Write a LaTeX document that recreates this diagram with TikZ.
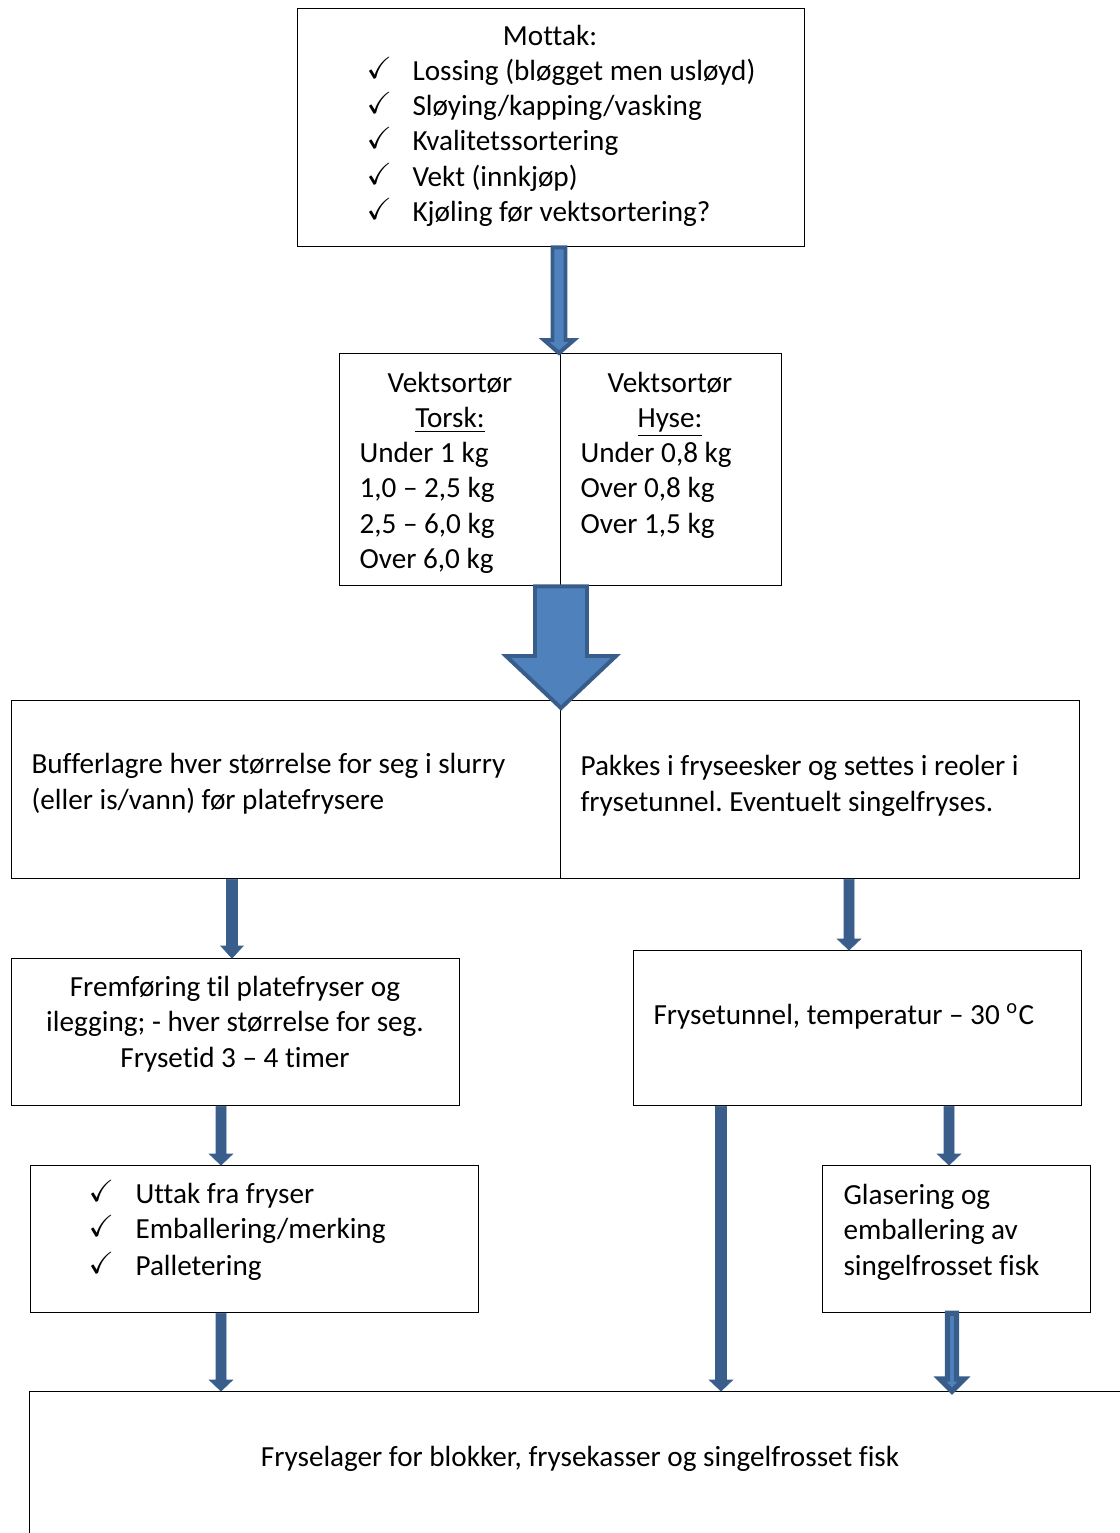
\documentclass[tikz,border=0pt]{standalone}
\usepackage{fontspec}
\setmainfont{Carlito}[Ligatures={NoCommon}]
\usepackage{amssymb}
\usetikzlibrary{calc}
\frenchspacing

\definecolor{arrowfill}{HTML}{4F81BD}
\definecolor{arrowline}{HTML}{385D8A}
\definecolor{arrowdark}{HTML}{3A5E8C}

\newcommand{\px}{0.377pt}
\tikzset{
  box/.style={draw, line width=0.5pt, inner sep=0pt, anchor=north west},
  txt/.style={inner sep=0pt, anchor=base west, font=\fontsize{11}{13.4}\selectfont},
  ctxt/.style={txt, anchor=base},
  tick/.style={inner sep=0pt, anchor=base west, font=\fontsize{11.5}{13}\selectfont},
  hollowarrow/.style={fill=arrowfill, draw=arrowline, line width=1.5pt, line join=miter},
  solidarrow/.style={fill=arrowdark, draw=arrowdark, line width=0.3pt},
}
% stepbox: name, left, top, width, height
\newcommand{\stepbox}[5]{\node[box, minimum width=#4*\px, minimum height=#5*\px] (#1) at (#2,#3) {};}
% blockarrow: style, x, from, to, half shaft, half head, head length
\newcommand{\blockarrow}[7]{%
  \path[#1] ($(#2 |- #3)+(-#5,0)$) -- ($(#2 |- #3)+(#5,0)$)
    -- ($(#2 |- #4)+(#5,-#7)$) -- ($(#2 |- #4)+(#6,-#7)$) -- (#2 |- #4)
    -- ($(#2 |- #4)+(-#6,-#7)$) -- ($(#2 |- #4)+(-#5,-#7)$) -- cycle;}

\begin{document}
\begin{tikzpicture}[x=\px, y=-\px]
  \useasboundingbox (0,0) rectangle (1120,1533);
  \clip (0,0) rectangle (1120,1533);

  % boxes
  \stepbox{mottak}{297}{8}{507}{238}
  \stepbox{torsk}{339}{353}{221}{232}
  \stepbox{hyse}{560}{353}{221}{232}
  \stepbox{buffer}{11}{700}{549}{178}
  \stepbox{pakkes}{560}{700}{519}{178}
  \stepbox{fremf}{11}{958}{448}{147}
  \stepbox{tunnel}{633}{950}{448}{155}
  \stepbox{uttak}{30}{1165}{448}{147}
  \stepbox{glaser}{822}{1165}{268}{147}
  \stepbox{lager}{29}{1391}{1100}{150}

  % Mottak
  \node[ctxt] (mottak-0) at (550,45) {Mottak:};
  \foreach \t [count=\i] in {Lossing (bløgget men usløyd), Sløying/kapping/vasking,
      Kvalitetssortering, Vekt (innkjøp), Kjøling før vektsortering?} {
    \node[tick] (mottak-tick\i) at (366,43+35.3*\i) {$\checkmark$};
    \node[txt] (mottak-\i) at (412,45+35.3*\i) {\t};
  }

  % Vektsortør
  \node[ctxt] (torsk-0) at (450,392) {Vektsortør};
  \node[ctxt] (torsk-00) at (450,427) {\underline{Torsk:}};
  \foreach \t [count=\i] in {Under 1 kg, {1,0 – 2,5 kg}, {2,5 – 6,0 kg}, {Over 6,0 kg}}
    \node[txt] (torsk-\i) at (359,427.5+35.2*\i) {\t};
  \node[ctxt] (hyse-0) at (670,392) {Vektsortør};
  \node[ctxt] (hyse-00) at (670,427) {\underline{Hyse:}};
  \foreach \t [count=\i] in {{Under 0,8 kg}, {Over 0,8 kg}, {Over 1,5 kg}}
    \node[txt] (hyse-\i) at (580,427.5+35.2*\i) {\t};

  % second row
  \node[txt] (buffer-1) at (31,773) {Bufferlagre hver størrelse for seg i slurry};
  \node[txt] (buffer-2) at (31,809) {(eller is/vann) før platefrysere};
  \node[txt] (pakkes-1) at (580,775) {Pakkes i fryseesker og settes i reoler i};
  \node[txt] (pakkes-2) at (580,811) {frysetunnel. Eventuelt singelfryses.};

  % third row
  \node[ctxt] (fremf-1) at (235,996) {Fremføring til platefryser og};
  \node[ctxt] (fremf-2) at (235,1031) {ilegging; - hver størrelse for seg.};
  \node[ctxt] (fremf-3) at (235,1067) {Frysetid 3 – 4 timer};
  \node[txt] (tunnel-1) at (653,1024) {Frysetunnel, temperatur – 30 \textsuperscript{o}C};

  % fourth row
  \foreach \t/\y [count=\i] in {Uttak fra fryser/1203, Emballering\slash merking/1238, Palletering/1275} {
    \node[tick] (uttak-tick\i) at (88,\y-2) {$\checkmark$};
    \node[txt] (uttak-\i) at (135,\y) {\t};
  }
  \foreach \t/\y [count=\i] in {Glasering og/1204, emballering av/1239, singelfrosset fisk/1275}
    \node[txt] (glaser-\i) at (843,\y) {\t};

  \node[ctxt] (lager-1) at (580,1466) {Fryselager for blokker, frysekasser og singelfrosset fisk};

  % arrows
  \coordinate (c1) at (559,0);
  \coordinate (c2) at (561,0);
  \coordinate (c3) at (232,0);
  \coordinate (c4) at (849,0);
  \coordinate (c5) at (221,0);
  \coordinate (c6) at (721,0);
  \coordinate (c7) at (949,0);
  \coordinate (c8) at (221,0);
  \coordinate (c9) at (952,0);
  \coordinate (tip2) at ($(buffer.north)+(0,8)$);
  \blockarrow{hollowarrow}{c1}{mottak.south}{torsk.north}{6.5}{15}{13}
  \blockarrow{hollowarrow}{c2}{torsk.south}{tip2}{26}{55}{52}
  \blockarrow{solidarrow}{c3}{buffer.south}{fremf.north}{5.5}{11}{12}
  \blockarrow{solidarrow}{c4}{pakkes.south}{tunnel.north}{5}{11.5}{11}
  \blockarrow{solidarrow}{c5}{fremf.south}{uttak.north}{5}{11.5}{11}
  \blockarrow{solidarrow}{c6}{tunnel.south}{lager.north}{5.5}{11.5}{11}
  \blockarrow{solidarrow}{c7}{tunnel.south}{glaser.north}{5}{11.5}{11}
  \blockarrow{solidarrow}{c8}{uttak.south}{lager.north}{5}{11.5}{11}
  \blockarrow{hollowarrow, line width=2pt}{c9}{glaser.south}{lager.north}{4.5}{12}{12}
\end{tikzpicture}
\end{document}
